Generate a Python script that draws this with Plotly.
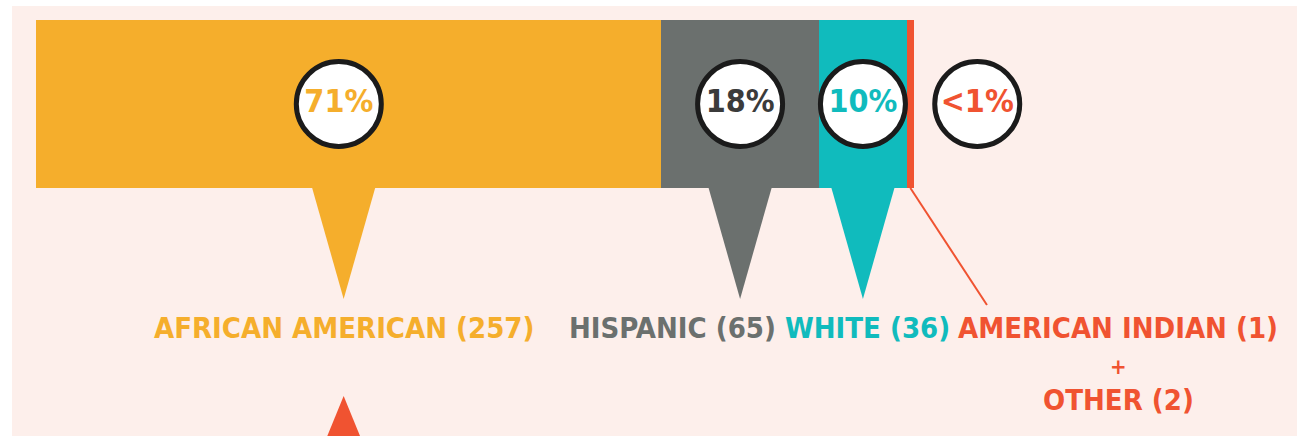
import plotly.graph_objects as go
import numpy as np

categories = ["AFRICAN AMERICAN", "HISPANIC", "WHITE", "AMERICAN INDIAN + OTHER"]
counts = [257, 65, 36, 3]
pct_labels = ["71%", "18%", "10%", "<1%"]
label_texts = ["AFRICAN AMERICAN (257)", "HISPANIC (65)", "WHITE (36)", "AMERICAN INDIAN (1)"]
extra_plus = "+"
extra_other = "OTHER (2)"

colors = ["#f5ae2c", "#6b706e", "#10bbbd", "#f05331"]
pct_colors = ["#f5ae2c", "#3b3b3b", "#10bbbd", "#f05331"]
pink = "#fdefeb"
FONT = "Liberation Sans Narrow, DejaVu Sans Condensed, Arial Narrow, sans-serif"

W, H = 1297, 436
ml, mt = 12, 6
total = sum(counts)
bar_px0, bar_px1 = 36, 914
scale = (bar_px1 - bar_px0) / total          # px per unit
x0 = (ml - bar_px0) / scale
x1 = (W - bar_px0) / scale

starts = np.concatenate([[0], np.cumsum(counts)[:-1]])
ends = np.cumsum(counts)
mids = (starts + ends) / 2

bar_y, bar_h = 104, 168
bar_bottom = bar_y + bar_h / 2

fig = go.Figure()
for c, v, col in zip(categories, counts, colors):
    fig.add_trace(go.Bar(y=[bar_y], x=[v], orientation="h", width=bar_h,
                         marker=dict(color=col, line=dict(width=0)),
                         name=c, hoverinfo="skip", showlegend=False))

# circle positions: segment middles, small segment shifted to the right
circ_x = list(mids[:3]) + [ends[3] + 26]
circ_x[0] -= 4
fig.add_trace(go.Scatter(
    x=circ_x, y=[bar_y] * 4, mode="markers+text",
    marker=dict(size=85, color="white", line=dict(color="#1b1b1b", width=5)),
    text=pct_labels, textposition="middle center",
    textfont=dict(family=FONT, size=32, color=pct_colors, weight="bold"),
    hoverinfo="skip", showlegend=False))

# pointers
half = 31.5 / scale
tip_y = 299
for i in range(3):
    cx = mids[i] - (2 if i == 0 else 0)
    fig.add_shape(type="path", xref="x", yref="y",
                  path=f"M {cx-half},{bar_bottom} L {cx+half},{bar_bottom} L {cx},{tip_y} Z",
                  fillcolor=colors[i], line=dict(width=0))
fig.add_shape(type="line", xref="x", yref="y",
              x0=ends[3] - 1.5, y0=bar_bottom, x1=ends[3] + 30, y1=305,
              line=dict(color=colors[3], width=2))

# labels
label_x = [mids[0] - 2, mids[1] - 28, mids[2] + 2, ends[3] + 84]
for t, lx, col in zip(label_texts, label_x, colors):
    fig.add_annotation(x=lx, y=328, xref="x", yref="y", text=t, showarrow=False,
                       xanchor="center", yanchor="middle",
                       font=dict(family=FONT, size=29, color=col, weight="bold"))
fig.add_annotation(x=label_x[3], y=366, xref="x", yref="y", text=extra_plus, showarrow=False,
                   xanchor="center", yanchor="middle",
                   font=dict(family=FONT, size=22, color=colors[3], weight="bold"))
fig.add_annotation(x=label_x[3], y=400, xref="x", yref="y", text=extra_other, showarrow=False,
                   xanchor="center", yanchor="middle",
                   font=dict(family=FONT, size=29, color=colors[3], weight="bold"))

# bottom orange-red triangle
tx = mids[0] - 2
fig.add_shape(type="path", xref="x", yref="y",
              path=f"M {tx},{396} L {tx+18/scale},{440} L {tx-18/scale},{440} Z",
              fillcolor="#f05331", line=dict(width=0))

fig.update_layout(
    width=W, height=H, barmode="stack",
    margin=dict(l=ml, r=0, t=mt, b=0),
    paper_bgcolor="white", plot_bgcolor=pink,
    xaxis=dict(range=[x0, x1], visible=False, fixedrange=True),
    yaxis=dict(range=[H, mt], visible=False, fixedrange=True),
    bargap=0,
)
fig.write_html("out.html", config={"displayModeBar": False},
               post_script="document.body.style.margin='0px';document.body.style.overflow='hidden';")
